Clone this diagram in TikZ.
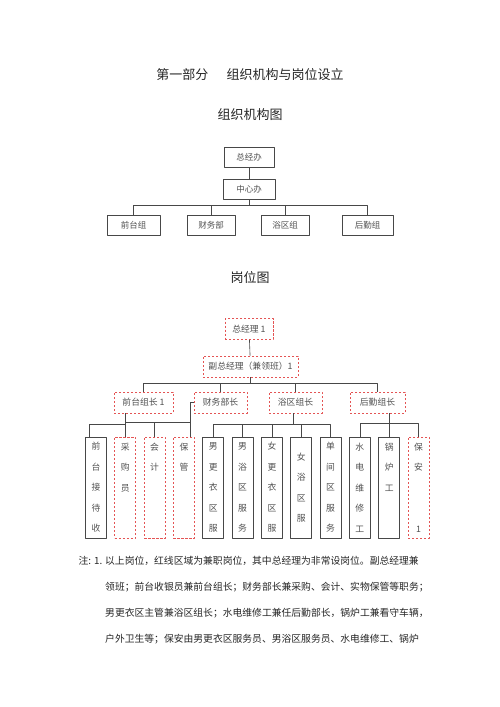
\documentclass[tikz,border=0pt]{standalone}
\usepackage{fontspec}
\setmainfont{Noto Sans CJK SC}
\usepackage{tikz}

\begin{document}
\begin{tikzpicture}[x=1pt, y=-1pt, line cap=round, line join=round,
    title/.style={inner sep=0pt, text=ink, font=\fontsize{13}{15}\selectfont},
    orgbox/.style={draw=edge, line width=0.75pt, inner sep=0pt, minimum height=20pt,
      text=ink!80, font=\fontsize{8.5}{10}\selectfont},
    postbox/.style={draw=parttime, line width=0.75pt, line cap=butt,
      dash pattern=on 2.4pt off 1.6pt, inner sep=0pt, minimum height=21pt,
      text=ink!80, font=\fontsize{8.8}{10}\selectfont},
    colsolid/.style={draw=edge, line width=0.75pt, inner sep=0pt, minimum width=21pt,
      minimum height=101pt, align=center, text=ink!80,
      font=\fontsize{8.8}{20.5}\selectfont},
    coldash/.style={colsolid, draw=parttime, line cap=butt, dash pattern=on 2.4pt off 1.6pt},
    link/.style={draw=edge, line width=0.6pt},
    note/.style={anchor=base west, inner sep=0pt, text=ink, font=\fontsize{9.8}{12}\selectfont}]
  \definecolor{ink}{RGB}{38,38,38}
  \definecolor{edge}{RGB}{72,72,72}
  \definecolor{parttime}{RGB}{228,84,84}

  \fill[white] (0,0) rectangle (500,707);
  \useasboundingbox (0,0) rectangle (500,707);

  % titles
  \node[title] (part) at (250,75) {第一部分\hspace{1.4em}组织机构与岗位设立};
  \node[title] (orgtitle) at (250,115) {组织机构图};
  \node[title] (posttitle) at (250,278) {岗位图};

  % organisation chart
  \node[orgbox, minimum width=50pt] (zjb) at (249,157) {总经办};
  \node[orgbox, minimum width=52pt] (zxb) at (249,189) {中心办};
  \node[orgbox, minimum width=53pt] (qtz) at (133.5,225) {前台组};
  \node[orgbox, minimum width=48pt] (cwb) at (211,225) {财务部};
  \node[orgbox, minimum width=48pt] (yqz) at (285,225) {浴区组};
  \node[orgbox, minimum width=51pt] (hqz) at (367.5,225) {后勤组};

  \draw[link] (zjb) -- (zxb);
  \draw[link] (zxb.south) -- ++(0,6) coordinate (orgbus);
  \foreach \n in {qtz,cwb,yqz,hqz}
    \draw[link] (\n.north) |- (orgbus);

  % post chart
  \node[postbox, minimum width=48pt] (zjl) at (249,329) {总经理 1};
  \node[postbox, minimum width=95pt] (fzjl) at (250.5,366.5) {副总经理（兼领班）1};
  \node[postbox, minimum width=59pt] (qtzz) at (143.5,402.5) {前台组长 1};
  \node[postbox, minimum width=53pt] (cwbz) at (220.5,402.5) {财务部长};
  \node[postbox, minimum width=53pt] (yqzz) at (295.5,402.5) {浴区组长};
  \node[postbox, minimum width=55pt] (hqzz) at (377.5,402.5) {后勤组长};

  \draw[link] (zjl) -- (fzjl);
  \draw[link] (fzjl.south) -- ++(0,5.5) coordinate (postbus);
  \foreach \n in {qtzz,cwbz,yqzz,hqzz}
    \draw[link] (\n.north) |- (postbus);

  \foreach \i/\nm/\kind/\lbl in {
      0/qtjd/colsolid/{前\\台\\接\\待\\收},
      1/cgy/coldash/{采\\购\\员\\\mbox{}\\\mbox{}},
      2/kj/coldash/{会\\计\\\mbox{}\\\mbox{}\\\mbox{}},
      3/bg/coldash/{保\\管\\\mbox{}\\\mbox{}\\\mbox{}},
      4/ngyq/colsolid/{男\\更\\衣\\区\\服},
      5/nyq/colsolid/{男\\浴\\区\\服\\务},
      6/vgyq/colsolid/{女\\更\\衣\\区\\服},
      7/vyq/colsolid/{女\\浴\\区\\服},
      8/djq/colsolid/{单\\间\\区\\服\\务},
      9/sdwx/colsolid/{水\\电\\维\\修\\工},
      10/glg/colsolid/{锅\\炉\\工\\\mbox{}\\\mbox{}},
      11/ba/coldash/{保\\安\\\mbox{}\\\mbox{}\\1}}
    \node[\kind] (\nm) at ({96+29.32*\i},487.5) {\lbl};

  % front desk
  \draw[link] ([xshift=12pt]qtzz.south west) -- ++(0,11) -| ([xshift=4pt]qtjd.north west);
  % finance
  \draw[link] (cwbz.west) -| ([xshift=-5pt]bg.north east);
  \foreach \n in {cgy,kj}
    \draw[link] (\n.north) |- ([xshift=-5pt,yshift=14pt]bg.north east);
  % bath area
  \draw[link] ([xshift=-2.5pt]yqzz.south) -- ++(0,11) coordinate (yqbus);
  \foreach \n in {ngyq,nyq,vgyq,vyq,djq}
    \draw[link] (\n.north) |- (yqbus);
  % logistics
  \draw[link] (glg.north) -- (glg.north |- hqzz.south);
  \draw[link] (sdwx.north) -- ++(0,-13) -| (ba.north);

  % notes
  \node[note] (note1) at (105,564) {\llap{注: 1.\hspace{0.3em}}以上岗位，红线区域为兼职岗位，其中总经理为非常设岗位。副总经理兼};
  \node[note] (note2) at (105,590) {领班；前台收银员兼前台组长；财务部长兼采购、会计、实物保管等职务；};
  \node[note] (note3) at (105,616) {男更衣区主管兼浴区组长；水电维修工兼任后勤部长，锅炉工兼看守车辆，};
  \node[note] (note4) at (105,642) {户外卫生等；保安由男更衣区服务员、男浴区服务员、水电维修工、锅炉};
\end{tikzpicture}
\end{document}
